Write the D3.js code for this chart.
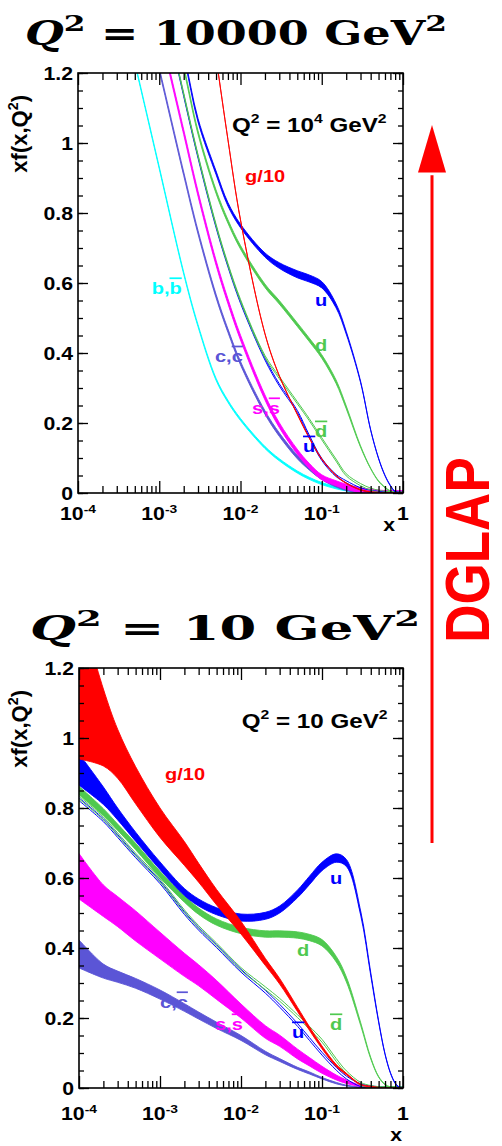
<!DOCTYPE html>
<html>
<head>
<meta charset="utf-8">
<script src="https://cdn.jsdelivr.net/npm/d3@7"></script>
<style>
  html, body { margin: 0; padding: 0; background: #fff; }
  svg { display: block; }
</style>
</head>
<body>
<svg id="chart" width="502" height="1146"></svg>
<script>
// ---------------- Q^2 = 10^4 GeV^2 ----------------
const X_HIGH = [5e-4, 7e-4, 1e-3, 2e-3, 3e-3, 5e-3, 7e-3, 0.01, 0.02, 0.03, 0.05, 0.07, 0.1, 0.15, 0.2, 0.3, 0.4, 0.5, 0.6, 0.7, 0.8, 0.9, 1];
const B_HIGH    = [1.23, 1.084, 0.929, 0.628, 0.478, 0.325, 0.262, 0.21, 0.13, 0.095, 0.06, 0.042, 0.027, 0.015, 0.009, 0.003, 0.001, 0, 0, 0, 0, 0, 0];
const C_HIGH    = [null, 1.36, 1.21, 0.912, 0.745, 0.563, 0.464, 0.371, 0.23, 0.167, 0.103, 0.071, 0.043, 0.022, 0.012, 0.004, 0.0015, 0.0005, 0, 0, 0, 0, 0];
const S_HIGH    = [null, null, 1.33, 1.031, 0.855, 0.658, 0.548, 0.444, 0.273, 0.194, 0.118, 0.078, 0.045, 0.028, 0.018, 0.008, 0.004, 0.0015, 0, 0, 0, 0, 0];
const UBAR_HIGH = [null, null, 1.45, 1.136, 0.96, 0.761, 0.649, 0.545, 0.383, 0.309, 0.233, 0.163, 0.096, 0.05, 0.032, 0.012, 0.005, 0.002, 0.001, 0, 0, 0, 0];
const DBAR_HIGH = [null, null, 1.45, 1.14, 0.964, 0.765, 0.653, 0.55, 0.39, 0.33, 0.258, 0.21, 0.155, 0.094, 0.052, 0.024, 0.011, 0.005, 0.002, 0.001, 0, 0, 0];
const D_HIGH    = [null, null, 1.5, 1.215, 1.03, 0.861, 0.776, 0.702, 0.592, 0.545, 0.481, 0.438, 0.39, 0.318, 0.245, 0.133, 0.07, 0.034, 0.016, 0.005, 0.001, 0, 0];
const U_HIGH    = [null, null, 1.5, 1.25, 1.065, 0.915, 0.825, 0.763, 0.68, 0.65, 0.625, 0.613, 0.595, 0.535, 0.458, 0.318, 0.18, 0.099, 0.05, 0.021, 0.004, 0.001, 0];
const G_HIGH    = [null, null, null, 1.9, 1.6, 1.245, 1.01, 0.78, 0.455, 0.335, 0.225, 0.158, 0.097, 0.05, 0.028, 0.009, 0.003, 0.001, 0, 0, 0, 0, 0];
const U_HIGH_ERR = [0.005, 0.005, 0.005, 0.005, 0.005, 0.005, 0.005, 0.005, 0.006, 0.008, 0.010, 0.010, 0.009, 0.006, 0.004, 0.002, 0.001, 0.001, 0.001, 0.001, 0.001, 0.001, 0.001];
const D_HIGH_ERR = [0.005, 0.005, 0.005, 0.005, 0.005, 0.005, 0.005, 0.005, 0.005, 0.005, 0.005, 0.005, 0.005, 0.005, 0.004, 0.002, 0.001, 0.001, 0.001, 0.001, 0.001, 0.001, 0.001];

// ---------------- Q^2 = 10 GeV^2 ----------------
const X_LOW = [1e-4, 2e-4, 3e-4, 5e-4, 1e-3, 2e-3, 3e-3, 5e-3, 0.01, 0.02, 0.03, 0.05, 0.07, 0.1, 0.15, 0.2, 0.3, 0.4, 0.5, 0.6, 0.7, 0.8, 0.9, 1];
const G_LOW      = [1.16, 1.03, 0.955, 0.865, 0.758, 0.67, 0.615, 0.545, 0.458, 0.36, 0.305, 0.224, 0.17, 0.116, 0.064, 0.04, 0.01, 0.004, 0.001, 0, 0, 0, 0, 0];
const G_LOW_ERR  = [0.22, 0.11, 0.07, 0.053, 0.042, 0.034, 0.027, 0.022, 0.018, 0.01, 0.008, 0.006, 0.005, 0.004, 0.003, 0.002, 0.001, 0.001, 0.001, 0, 0, 0, 0, 0];
const U_LOW      = [0.91, 0.835, 0.783, 0.718, 0.635, 0.56, 0.53, 0.505, 0.487, 0.492, 0.51, 0.555, 0.593, 0.633, 0.657, 0.643, 0.50, 0.325, 0.19, 0.097, 0.043, 0.014, 0.002, 0];
const U_LOW_ERR  = [0.045, 0.025, 0.017, 0.013, 0.011, 0.01, 0.01, 0.01, 0.01, 0.01, 0.01, 0.011, 0.012, 0.012, 0.012, 0.01, 0.006, 0.004, 0.002, 0.001, 0.001, 0.001, 0.001, 0];
const D_LOW      = [0.85, 0.788, 0.745, 0.69, 0.61, 0.54, 0.505, 0.474, 0.45, 0.44, 0.44, 0.437, 0.43, 0.415, 0.368, 0.31, 0.183, 0.085, 0.032, 0.01, 0.002, 0, 0, 0];
const D_LOW_ERR  = [0.012, 0.01, 0.009, 0.009, 0.009, 0.009, 0.009, 0.009, 0.009, 0.009, 0.009, 0.009, 0.009, 0.009, 0.008, 0.007, 0.004, 0.002, 0.001, 0.001, 0.001, 0, 0, 0];
const UBAR_LOW   = [0.825, 0.765, 0.72, 0.662, 0.588, 0.50, 0.455, 0.405, 0.335, 0.275, 0.235, 0.18, 0.14, 0.098, 0.055, 0.03, 0.008, 0.002, 0, 0, 0, 0, 0, 0];
const DBAR_LOW   = [0.83, 0.77, 0.725, 0.667, 0.593, 0.505, 0.46, 0.41, 0.34, 0.285, 0.252, 0.205, 0.172, 0.135, 0.08, 0.045, 0.012, 0.003, 0, 0, 0, 0, 0, 0];
const S_LOW      = [0.605, 0.535, 0.504, 0.463, 0.407, 0.352, 0.322, 0.28, 0.22, 0.16, 0.135, 0.097, 0.075, 0.052, 0.03, 0.018, 0.006, 0.002, 0, 0, 0, 0, 0, 0];
const S_LOW_ERR  = [0.065, 0.045, 0.043, 0.043, 0.038, 0.033, 0.03, 0.027, 0.02, 0.018, 0.016, 0.014, 0.012, 0.01, 0.007, 0.005, 0.002, 0.001, 0, 0, 0, 0, 0, 0];
const C_LOW      = [0.383, 0.334, 0.318, 0.299, 0.267, 0.23, 0.207, 0.179, 0.143, 0.1, 0.08, 0.056, 0.043, 0.028, 0.014, 0.007, 0.002, 0, 0, 0, 0, 0, 0, 0];
const C_LOW_ERR  = [0.04, 0.02, 0.016, 0.014, 0.013, 0.011, 0.01, 0.009, 0.007, 0.005, 0.004, 0.003, 0.003, 0.002, 0.002, 0.001, 0.001, 0, 0, 0, 0, 0, 0, 0];

// axis tick labels
const X_TICK_LABELS = ["10^{-4}", "10^{-3}", "10^{-2}", "10^{-1}", "1"];
const Y_TICK_LABELS = ["0", "0.2", "0.4", "0.6", "0.8", "1", "1.2"];

const COL = { u: "#0000ff", d: "#4fc94f", s: "#ff00ff", c: "#5b55d6", b: "#00ffff", g: "#ff0000" };
const SANS = "'Liberation Sans', Arial, Helvetica, sans-serif";
const SERIF = "'DejaVu Serif', 'Liberation Serif', serif";
const SX = 1.18;   // horizontal stretch of the bold labels
const CURVE = d3.curveCatmullRom.alpha(0.5);

const svg = d3.select("#chart");

// tiny markup: ^{..} superscript, \bar{..} overline, \it{..} italic
function rich(parent, str, size, opts = {}) {
  const t = parent.append("text").attr("font-size", size)
    .attr("font-family", opts.family || SANS)
    .attr("font-weight", "bold")
    .attr("fill", opts.color || "#000")
    .attr("text-anchor", opts.anchor || "start");
  if (opts.textLength) t.attr("textLength", opts.textLength).attr("lengthAdjust", "spacingAndGlyphs");
  const tokens = str.match(/(\^\{[^}]*\}|\\bar\{[^}]*\}|\\it\{[^}]*\}|[^\^\\]+)/g);
  let up = false;
  const rise = size * (opts.rise || 0.42);
  tokens.forEach(tok => {
    const sp = t.append("tspan");
    if (tok.startsWith("^{")) {
      sp.text(tok.slice(2, -1)).attr("font-size", size * (opts.supScale || 0.65));
      if (!up) { sp.attr("dy", -rise); up = true; }
    } else {
      let s = tok;
      if (tok.startsWith("\\bar{")) { s = tok.slice(5, -1); sp.style("text-decoration", "overline"); }
      if (tok.startsWith("\\it{")) { s = tok.slice(4, -1); sp.attr("font-style", "italic"); }
      sp.text(s);
      if (up) { sp.attr("dy", rise); up = false; }
    }
  });
  return t;
}

function placed(parent, x, y, sx, rot) {
  return parent.append("g").attr("transform", `translate(${x},${y}) scale(${sx},1)` + (rot ? ` rotate(${rot})` : ""));
}

const panels = [
  {
    key: "high", left: 78, right: 403, top: 73, bottom: 493, labelDy: 27, xTitleDx: -8, xTitleDy: 38,
    title: "\\it{Q}^{2} = 10000 GeV^{2}", titleX: 25, titleY: 45, titleW: 422,
    tag: "Q^{2} = 10^{4} GeV^{2}", tagAt: [7.85e-3, 1.031],
    xs: X_HIGH,
    series: [
      { kind: "band", color: COL.b, values: B_HIGH, err: 0.003 },
      { kind: "band", color: COL.c, values: C_HIGH, err: 0.005 },
      { kind: "band", color: COL.s, values: S_HIGH, err: 0.007 },
      { kind: "pair", color: COL.u, values: UBAR_HIGH, err: 0.003 },
      { kind: "pair", color: COL.d, values: DBAR_HIGH, err: 0.003 },
      { kind: "band", color: COL.d, values: D_HIGH, err: D_HIGH_ERR },
      { kind: "band", color: COL.u, values: U_HIGH, err: U_HIGH_ERR },
      { kind: "band", color: COL.g, values: G_HIGH, err: 0.0008 }
    ],
    labels: [
      { text: "g/10", color: COL.g, at: [0.0114, 0.889] },
      { text: "b,\\bar{b}", color: COL.b, at: [8.07e-4, 0.569] },
      { text: "u", color: COL.u, at: [0.0826, 0.534] },
      { text: "d", color: COL.d, at: [0.0826, 0.406] },
      { text: "c,\\bar{c}", color: COL.c, at: [4.85e-3, 0.374] },
      { text: "s,\\bar{s}", color: COL.s, at: [0.01387, 0.226] },
      { text: "\\bar{d}", color: COL.d, at: [0.0826, 0.16] },
      { text: "\\bar{u}", color: COL.u, at: [0.0588, 0.117] }
    ]
  },
  {
    key: "low", left: 79, right: 403, top: 668, bottom: 1088, labelDy: 32, xTitleDx: -1, xTitleDy: 53,
    title: "\\it{Q}^{2} = 10 GeV^{2}", titleX: 30, titleY: 640, titleW: 390,
    tag: "Q^{2} = 10 GeV^{2}", tagAt: [0.0102, 1.029],
    xs: X_LOW,
    series: [
      { kind: "band", color: COL.c, values: C_LOW, err: C_LOW_ERR },
      { kind: "band", color: COL.s, values: S_LOW, err: S_LOW_ERR },
      { kind: "pair", color: COL.u, values: UBAR_LOW, err: 0.004 },
      { kind: "pair", color: COL.d, values: DBAR_LOW, err: 0.004 },
      { kind: "band", color: COL.d, values: D_LOW, err: D_LOW_ERR },
      { kind: "band", color: COL.u, values: U_LOW, err: U_LOW_ERR },
      { kind: "band", color: COL.g, values: G_LOW, err: G_LOW_ERR }
    ],
    labels: [
      { text: "g/10", color: COL.g, at: [1.153e-3, 0.88] },
      { text: "u", color: COL.u, at: [0.1256, 0.583] },
      { text: "d", color: COL.d, at: [0.0491, 0.377] },
      { text: "c,\\bar{c}", color: COL.c, at: [1e-3, 0.229] },
      { text: "s,\\bar{s}", color: COL.s, at: [4.78e-3, 0.166] },
      { text: "\\bar{u}", color: COL.u, at: [0.0427, 0.143] },
      { text: "\\bar{d}", color: COL.d, at: [0.1256, 0.166] }
    ]
  }
];

const X_MAJOR = [1e-4, 1e-3, 1e-2, 1e-1, 1];
const X_MINOR = [];
for (let e = -4; e < 0; e++) for (let m = 2; m <= 9; m++) X_MINOR.push(m * Math.pow(10, e));
const Y_MAJOR = d3.range(0, 7).map(i => i * 0.2);
const Y_MINOR = d3.range(0, 25).map(i => i * 0.05);

panels.forEach(p => {
  const x = d3.scaleLog().domain([1e-4, 1]).range([p.left, p.right]);
  const y = d3.scaleLinear().domain([0, 1.2]).range([p.bottom, p.top]);
  const g = svg.append("g").attr("class", "panel-" + p.key);

  // panel heading
  const th = placed(g, p.titleX, p.titleY, 1, 0);
  rich(th, p.title, 33, { family: SERIF, textLength: p.titleW, rise: 0.42, supScale: 0.7 });

  // clip region of the frame
  const clipId = "clip-" + p.key;
  svg.append("clipPath").attr("id", clipId).append("rect")
    .attr("x", p.left).attr("y", p.top).attr("width", p.right - p.left).attr("height", p.bottom - p.top);
  const plot = g.append("g").attr("clip-path", `url(#${clipId})`);

  p.series.forEach(s => {
    const pts = p.xs.map((xv, i) => ({ x: xv, v: s.values[i], e: Array.isArray(s.err) ? s.err[i] : s.err }))
      .filter(d => d.v != null);
    if (s.kind === "band") {
      const area = d3.area().curve(CURVE)
        .x(d => x(d.x))
        .y0(d => y(Math.max(0, d.v - d.e)))
        .y1(d => y(d.v + d.e));
      plot.append("path").datum(pts).attr("d", area)
        .attr("fill", s.color).attr("stroke", s.color).attr("stroke-width", 0.9);
    } else {
      [-1, 1].forEach(sg => {
        const line = d3.line().curve(CURVE)
          .x(d => x(d.x)).y(d => y(Math.max(0, d.v + sg * d.e)));
        plot.append("path").datum(pts).attr("d", line)
          .attr("fill", "none").attr("stroke", s.color).attr("stroke-width", 1);
      });
    }
  });

  // curve labels
  p.labels.forEach(l => {
    const lg = placed(g, x(l.at[0]), y(l.at[1]), SX, 0);
    rich(lg, l.text, 17, { color: l.color });
  });
  const tg = placed(g, x(p.tagAt[0]), y(p.tagAt[1]), SX, 0);
  rich(tg, p.tag, 20.5, { rise: 0.45 });

  // axes (ticks on all four sides, pointing inward)
  const axes = g.append("g").attr("class", "axes");
  axes.append("g").attr("transform", `translate(0,${p.bottom})`)
    .call(d3.axisBottom(x).tickValues(X_MAJOR).tickSize(-12).tickFormat(""));
  axes.append("g").attr("transform", `translate(0,${p.bottom})`)
    .call(d3.axisBottom(x).tickValues(X_MINOR).tickSize(-7).tickFormat(""));
  axes.append("g").attr("transform", `translate(0,${p.top})`)
    .call(d3.axisTop(x).tickValues(X_MAJOR).tickSize(-12).tickFormat(""));
  axes.append("g").attr("transform", `translate(0,${p.top})`)
    .call(d3.axisTop(x).tickValues(X_MINOR).tickSize(-7).tickFormat(""));
  axes.append("g").attr("transform", `translate(${p.left},0)`)
    .call(d3.axisLeft(y).tickValues(Y_MAJOR).tickSize(-10).tickFormat(""));
  axes.append("g").attr("transform", `translate(${p.left},0)`)
    .call(d3.axisLeft(y).tickValues(Y_MINOR).tickSize(-5).tickFormat(""));
  axes.append("g").attr("transform", `translate(${p.right},0)`)
    .call(d3.axisRight(y).tickValues(Y_MAJOR).tickSize(-10).tickFormat(""));
  axes.append("g").attr("transform", `translate(${p.right},0)`)
    .call(d3.axisRight(y).tickValues(Y_MINOR).tickSize(-5).tickFormat(""));
  axes.selectAll(".domain").remove();
  axes.selectAll("line").attr("stroke", "#000").attr("stroke-width", 1.3);

  g.append("rect").attr("x", p.left).attr("y", p.top)
    .attr("width", p.right - p.left).attr("height", p.bottom - p.top)
    .attr("fill", "none").attr("stroke", "#000").attr("stroke-width", 1.6);

  // tick labels
  X_MAJOR.forEach((v, i) => {
    const lg = placed(g, x(v), p.bottom + p.labelDy, SX, 0);
    rich(lg, X_TICK_LABELS[i], 18, { anchor: "middle", rise: 0.4 });
  });
  Y_MAJOR.forEach((v, i) => {
    const lg = placed(g, p.left - 5, y(v) + 6.5, SX, 0);
    rich(lg, Y_TICK_LABELS[i], 18, { anchor: "end" });
  });

  // axis titles
  const xt = placed(g, p.right + p.xTitleDx, p.bottom + p.xTitleDy, SX, 0);
  rich(xt, "x", 18, { anchor: "end" });
  const yt = placed(g, 27, p.top + 22, 1, -90);
  rich(yt, "xf(x,Q^{2})", 22, { anchor: "end", rise: 0.4 });
});

// DGLAP evolution arrow
const arrow = svg.append("g").attr("class", "dglap");
const ay = d3.scaleLinear().domain([0, 1]).range([843, 125]);
arrow.append("line").attr("x1", 432).attr("x2", 432).attr("y1", ay(0)).attr("y2", ay(0.93))
  .attr("stroke", COL.g).attr("stroke-width", 3);
arrow.append("path")
  .attr("d", d3.line()([[432, ay(1)], [446, ay(0.934)], [418, ay(0.934)]]) + "Z")
  .attr("fill", COL.g);
const dg = placed(arrow, 489, 550, SX, -90);
dg.append("text").text("DGLAP").attr("font-family", SANS).attr("font-weight", "bold")
  .attr("font-size", 53).attr("fill", COL.g).attr("text-anchor", "middle");
</script>
</body>
</html>
